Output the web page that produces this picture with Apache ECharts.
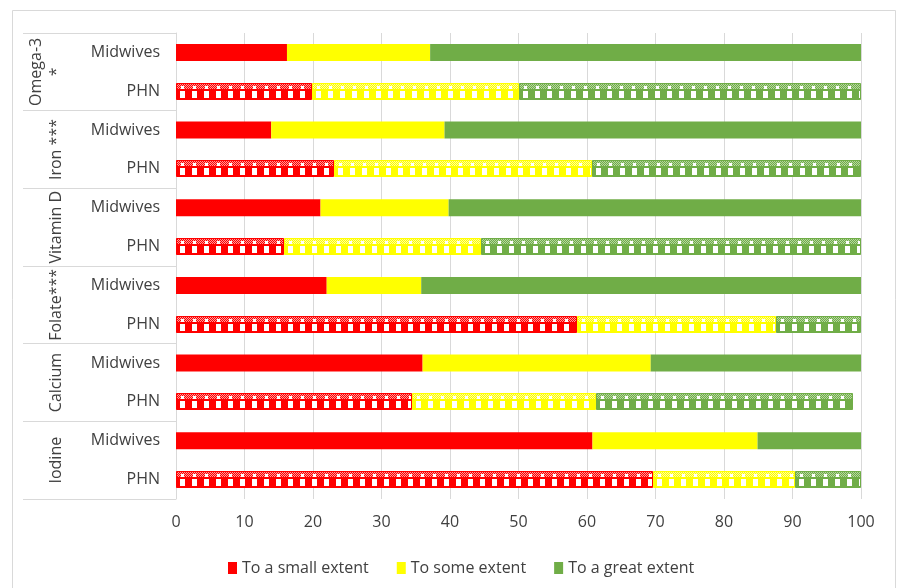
<!DOCTYPE html>
<html>
<head>
<meta charset="utf-8">
<script src="https://cdn.jsdelivr.net/npm/echarts@6/dist/echarts.min.js"></script>
<style>
html, body { margin: 0; padding: 0; background: #ffffff; }
#chart { width: 898px; height: 588px; }
</style>
</head>
<body>
<div id="chart"></div>
<script>
// ---- data ----
const groups = ['Omega-3\n*', 'Iron ***', 'Vitamin D', 'Folate***', 'Calcium', 'Iodine'];
const roles = ['Midwives', 'PHN'];
const seriesNames = ['To a small extent', 'To some extent', 'To a great extent'];
// rows in order: Omega-3 Midwives, Omega-3 PHN, Iron Midwives, Iron PHN, ...
const smallExtent = [16.2, 19.8, 13.9, 23.1, 21.1, 15.7, 22.0, 58.5, 36.0, 34.5, 60.8, 69.6];
const someExtent  = [20.9, 30.3, 25.3, 37.6, 18.7, 28.8, 13.8, 29.1, 33.3, 26.8, 24.1, 20.8];
const greatExtent = [62.9, 49.9, 60.8, 39.3, 60.2, 55.5, 64.2, 12.4, 30.7, 37.5, 15.1, 9.6];
const xTickLabels = ['0', '10', '20', '30', '40', '50', '60', '70', '80', '90', '100'];

// ---- styling ----
const colors = ['#FF0000', '#FFFF00', '#70AD47'];
const tints = ['#FF9A9A', '#FFFF9A', '#B5D6A0'];
const FONT = 'Open Sans';
const TEXT = '#404040';
const GRID_C = '#d9d9d9';
const BAR_H = 17;

function makePattern(color, tint) {
  const w = 12, h = BAR_H;
  const c = document.createElement('canvas');
  c.width = w; c.height = h;
  const ctx = c.getContext('2d');
  ctx.fillStyle = '#ffffff';
  ctx.fillRect(0, 0, w, h);
  for (let y = 0; y < h; y++) {
    for (let x = 0; x < w; x++) {
      let fill = color;
      if (y >= 1 && y <= 5) {
        fill = ((x + y) % 2 === 0) ? color : tint;
        if (y >= 3 && x >= 5 && x <= 7) fill = '#ffffff';
      } else if (y >= 8 && y <= 14) {
        if (x >= 4 && x <= 8) fill = '#ffffff';
      }
      ctx.fillStyle = fill;
      ctx.fillRect(x, y, 1, 1);
    }
  }
  return { image: c, repeat: 'repeat' };
}
const patterns = colors.map((c, k) => makePattern(c, tints[k]));

const rowKeys = [];
groups.forEach(g => roles.forEach(r => rowKeys.push(g + '|' + r)));

const stacks = [smallExtent, someExtent, greatExtent];

// Midwives rows -> solid stacked bars
const barSeries = seriesNames.map((name, k) => ({
  name: name,
  type: 'bar',
  stack: 'total',
  barWidth: BAR_H,
  yAxisIndex: 0,
  itemStyle: { color: colors[k] },
  emphasis: { disabled: true },
  data: stacks[k].map((v, i) => (i % 2 === 0 ? v : '-'))
}));

// PHN rows -> patterned segments (custom series using the axes' scales)
const phnData = [];
rowKeys.forEach((key, i) => {
  if (i % 2 !== 1) return;
  let start = 0;
  stacks.forEach((arr, k) => {
    const end = start + arr[i];
    phnData.push([start, end, i, k]);
    start = end;
  });
});

const phnSeries = {
  type: 'custom',
  yAxisIndex: 0,
  encode: { x: [0, 1], y: 2 },
  data: phnData,
  renderItem: function (params, api) {
    const p0 = api.coord([api.value(0), api.value(2)]);
    const p1 = api.coord([api.value(1), api.value(2)]);
    const k = api.value(3);
    const x0 = Math.round(p0[0]);
    const x1 = Math.round(p1[0]);
    const y0 = Math.round(p0[1] - BAR_H / 2);
    return {
      type: 'rect',
      x: x0,
      y: y0,
      shape: { x: 0.5, y: 0.5, width: Math.max(x1 - x0 - 1, 0), height: BAR_H - 1 },
      style: { fill: patterns[k], stroke: colors[k], lineWidth: 1 }
    };
  }
};

const chart = echarts.init(document.getElementById('chart'), null, { renderer: 'canvas' });
chart.setOption({
  animation: false,
  backgroundColor: '#ffffff',
  textStyle: { fontFamily: FONT },
  graphic: [{
    type: 'rect',
    shape: { x: 12.5, y: 10.5, width: 883, height: 600 },
    style: { fill: 'none', stroke: GRID_C, lineWidth: 1 },
    silent: true
  }],
  grid: { left: 176, top: 33, width: 685, height: 466, outerBoundsMode: 'none', containLabel: false },
  legend: {
    data: seriesNames,
    left: 223,
    top: 555,
    icon: 'rect',
    itemWidth: 9,
    itemHeight: 12,
    itemGap: 28,
    textStyle: { fontFamily: FONT, fontSize: 16, color: TEXT }
  },
  xAxis: {
    type: 'value',
    min: 0,
    max: 100,
    interval: 10,
    axisLine: { show: false },
    axisTick: { show: false },
    splitLine: { show: true, lineStyle: { color: GRID_C, width: 1 } },
    axisLabel: {
      fontFamily: FONT, fontSize: 16, color: TEXT, margin: 15,
      formatter: function (v) { return xTickLabels[Math.round(v / 10)]; }
    }
  },
  yAxis: [{
    type: 'category',
    data: rowKeys,
    inverse: true,
    position: 'left',
    axisLine: { show: true, lineStyle: { color: GRID_C, width: 1 } },
    axisTick: { show: false },
    splitLine: { show: false },
    axisLabel: {
      fontFamily: FONT, fontSize: 16, color: TEXT, margin: 16,
      formatter: function (v) { return v.split('|')[1]; }
    }
  }, {
    type: 'category',
    data: groups,
    inverse: true,
    position: 'left',
    offset: 0,
    axisLine: { show: false },
    axisTick: { show: true, length: 153, lineStyle: { color: GRID_C, width: 1 } },
    splitLine: { show: false },
    axisLabel: {
      fontFamily: FONT, fontSize: 16, color: TEXT, margin: 110,
      rotate: 90, lineHeight: 20, interval: 0
    }
  }],
  series: barSeries.concat([phnSeries])
});
</script>
</body>
</html>
